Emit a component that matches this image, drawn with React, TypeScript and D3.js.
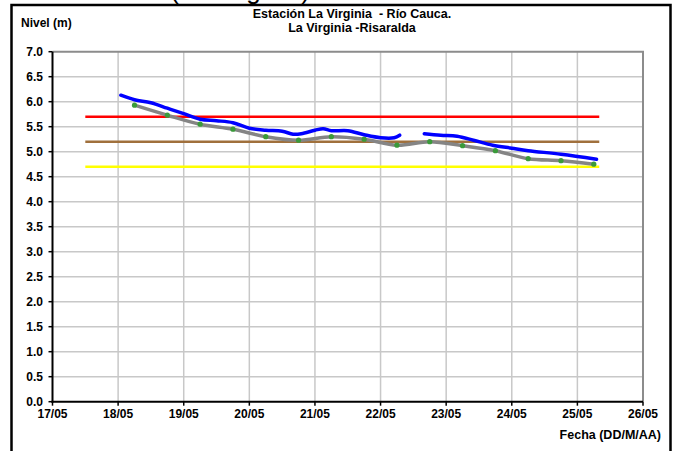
import { useEffect, useRef } from 'react';
import * as d3 from 'd3';

// Serie azul (nivel medido)
const blueTimes = [
  '2011-05-18T01:00', '2011-05-18T06:00', '2011-05-18T12:00', '2011-05-18T18:00',
  '2011-05-19T00:00', '2011-05-19T06:00', '2011-05-19T12:00', '2011-05-19T18:00',
  '2011-05-20T00:00', '2011-05-20T06:00', '2011-05-20T12:00', '2011-05-20T16:00',
  '2011-05-20T19:00', '2011-05-21T00:00', '2011-05-21T03:00', '2011-05-21T06:00',
  '2011-05-21T12:00', '2011-05-21T18:00', '2011-05-22T00:00', '2011-05-22T05:00',
  '2011-05-22T07:00',
  '2011-05-22T16:00', '2011-05-22T22:00', '2011-05-23T04:00', '2011-05-23T10:00',
  '2011-05-23T17:00', '2011-05-24T00:00', '2011-05-24T06:00', '2011-05-24T18:00',
  '2011-05-25T07:00',
];
const blueValues = [
  6.13, 6.04, 5.98, 5.87,
  5.76, 5.65, 5.62, 5.58,
  5.47, 5.43, 5.41, 5.35,
  5.36, 5.43, 5.46, 5.42,
  5.42, 5.34, 5.28, 5.28,
  5.33,
  5.36, 5.33, 5.31, 5.23,
  5.13, 5.07, 5.02, 4.95,
  4.85,
];
// the blue series breaks after this time
const blueGapAfter = '2011-05-22T07:00';

// Serie gris con puntos verdes (cada 12 h)
const grayTimes = [
  '2011-05-18T06:00', '2011-05-18T18:00', '2011-05-19T06:00', '2011-05-19T18:00',
  '2011-05-20T06:00', '2011-05-20T18:00', '2011-05-21T06:00', '2011-05-21T18:00',
  '2011-05-22T06:00', '2011-05-22T18:00', '2011-05-23T06:00', '2011-05-23T18:00',
  '2011-05-24T06:00', '2011-05-24T18:00', '2011-05-25T06:00',
];
const grayValues = [
  5.93, 5.73, 5.55, 5.45,
  5.30, 5.23, 5.30, 5.25,
  5.13, 5.20, 5.12, 5.02,
  4.86, 4.82, 4.75,
];

// Niveles de referencia
const thresholdValues = [5.7, 5.2, 4.7];
const thresholdColors = ['#ff0000', '#a0703c', '#ffff00'];
const thresholdStart = '2011-05-17T12:00';
const thresholdEnd = '2011-05-25T08:00';

const yTicks = d3.range(0, 7.01, 0.5);
const xDomain = ['2011-05-17T00:00', '2011-05-26T00:00'];

export default function App() {
  const svgRef = useRef<SVGSVGElement>(null);
  const width = 674;
  const height = 451;

  useEffect(() => {
    if (!svgRef.current) return;
    const svg = d3.select(svgRef.current);
    svg.selectAll('*').remove();

    const font = '"Liberation Sans", Arial, sans-serif';
    const parse = (s: string) => new Date(s);

    const x = d3.scaleTime()
      .domain(xDomain.map(parse))
      .range([52.5, 643]);
    const y = d3.scaleLinear()
      .domain([0, 7])
      .range([401.7, 51.7]);

    svg.append('rect').attr('width', width).attr('height', height).attr('fill', 'white');

    // big heading, mostly above the visible area (only its lower part shows)
    svg.append('text')
      .attr('x', 240).attr('y', -1)
      .attr('text-anchor', 'middle')
      .style('font-family', font)
      .style('font-size', '26px')
      .attr('fill', 'black')
      .text('(La Virginia)');

    // outer frame
    svg.append('rect')
      .attr('x', 11.5).attr('y', 5)
      .attr('width', 659).attr('height', 460)
      .attr('fill', 'white')
      .attr('stroke', 'black')
      .attr('stroke-width', 2.5);

    // grid
    const days = d3.timeDay.range(parse(xDomain[0]), d3.timeDay.offset(parse(xDomain[1]), 1));
    svg.append('g').selectAll('line')
      .data(yTicks.filter(v => v > 0 && v < 7))
      .join('line')
      .attr('x1', x.range()[0]).attr('x2', x.range()[1])
      .attr('y1', d => y(d)).attr('y2', d => y(d))
      .attr('stroke', '#c8c8c8').attr('stroke-width', 1.5);
    svg.append('g').selectAll('line')
      .data(days.slice(1, -1))
      .join('line')
      .attr('x1', d => x(d)).attr('x2', d => x(d))
      .attr('y1', y(0)).attr('y2', y(7))
      .attr('stroke', '#c8c8c8').attr('stroke-width', 1.5);

    // top and right borders of plot area
    svg.append('path')
      .attr('d', `M${x.range()[0]},${y(7)}H${x.range()[1]}V${y(0)}`)
      .attr('fill', 'none')
      .attr('stroke', '#8c8c8c')
      .attr('stroke-width', 2);

    // threshold lines
    thresholdValues.forEach((v, i) => {
      svg.append('line')
        .attr('x1', x(parse(thresholdStart))).attr('x2', x(parse(thresholdEnd)))
        .attr('y1', y(v)).attr('y2', y(v))
        .attr('stroke', thresholdColors[i])
        .attr('stroke-width', 2.5);
    });

    // gray line with dots
    const grayData = grayTimes.map((t, i) => [parse(t), grayValues[i]] as [Date, number]);
    const line = d3.line<[Date, number] | null>()
      .defined(d => d !== null)
      .x(d => x(d![0]))
      .y(d => y(d![1]))
      .curve(d3.curveCatmullRom.alpha(0.5));
    svg.append('path')
      .datum(grayData)
      .attr('d', line as any)
      .attr('fill', 'none')
      .attr('stroke', '#858585')
      .attr('stroke-width', 3.5);
    svg.append('g').selectAll('circle')
      .data(grayData)
      .join('circle')
      .attr('cx', d => x(d[0]))
      .attr('cy', d => y(d[1]))
      .attr('r', 2.6)
      .attr('fill', '#3a9a3a');

    // blue line
    const blueData: ([Date, number] | null)[] = [];
    blueTimes.forEach((t, i) => {
      blueData.push([parse(t), blueValues[i]]);
      if (t === blueGapAfter) blueData.push(null);
    });
    svg.append('path')
      .datum(blueData)
      .attr('d', line as any)
      .attr('fill', 'none')
      .attr('stroke', '#0000ff')
      .attr('stroke-width', 3.5)
      .attr('stroke-linecap', 'round');

    // axes
    svg.append('line')
      .attr('x1', x.range()[0]).attr('x2', x.range()[0])
      .attr('y1', y(7)).attr('y2', y(0) + 1)
      .attr('stroke', 'black').attr('stroke-width', 2);
    svg.append('line')
      .attr('x1', x.range()[0] - 1).attr('x2', x.range()[1])
      .attr('y1', y(0)).attr('y2', y(0))
      .attr('stroke', 'black').attr('stroke-width', 2);

    // y ticks + labels
    const yg = svg.append('g');
    yTicks.forEach(v => {
      yg.append('line')
        .attr('x1', x.range()[0] - 4).attr('x2', x.range()[0])
        .attr('y1', y(v)).attr('y2', y(v))
        .attr('stroke', 'black').attr('stroke-width', 1.5);
      yg.append('text')
        .attr('x', 43).attr('y', y(v))
        .attr('dy', '0.35em')
        .attr('text-anchor', 'end')
        .style('font-family', font)
        .style('font-size', '12px')
        .style('font-weight', 'bold')
        .text(d3.format('.1f')(v));
    });

    // x ticks + labels
    const fmt = d3.timeFormat('%d/%m');
    const xg = svg.append('g');
    days.forEach(d => {
      if (+d > +parse(xDomain[1])) return;
      xg.append('line')
        .attr('x1', x(d)).attr('x2', x(d))
        .attr('y1', y(0)).attr('y2', y(0) + 4)
        .attr('stroke', 'black').attr('stroke-width', 1.5);
      xg.append('text')
        .attr('x', x(d)).attr('y', 418)
        .attr('text-anchor', 'middle')
        .style('font-family', font)
        .style('font-size', '12px')
        .style('font-weight', 'bold')
        .text(fmt(d));
    });

    // titles
    const bold = (sel: any, size = '12px') => sel
      .style('font-family', font)
      .style('font-size', size)
      .style('font-weight', 'bold')
      .attr('fill', 'black');
    bold(svg.append('text').attr('x', 21).attr('y', 27).text('Nivel (m)'));
    bold(svg.append('text').attr('x', 352).attr('y', 18).attr('text-anchor', 'middle')
      .style('white-space', 'pre').text('Estación La Virginia  - Río Cauca.'), '12.5px');
    bold(svg.append('text').attr('x', 352).attr('y', 32).attr('text-anchor', 'middle')
      .text('La Virginia -Risaralda'), '12.5px');
    bold(svg.append('text').attr('x', 661).attr('y', 439).attr('text-anchor', 'end')
      .text('Fecha (DD/M/AA)'), '12.5px');
  }, []);

  return (
    <svg
      ref={svgRef}
      width={width}
      height={height}
      viewBox={`0 0 ${width} ${height}`}
      style={{ position: 'absolute', left: 0, top: 0 }}
    />
  );
}
